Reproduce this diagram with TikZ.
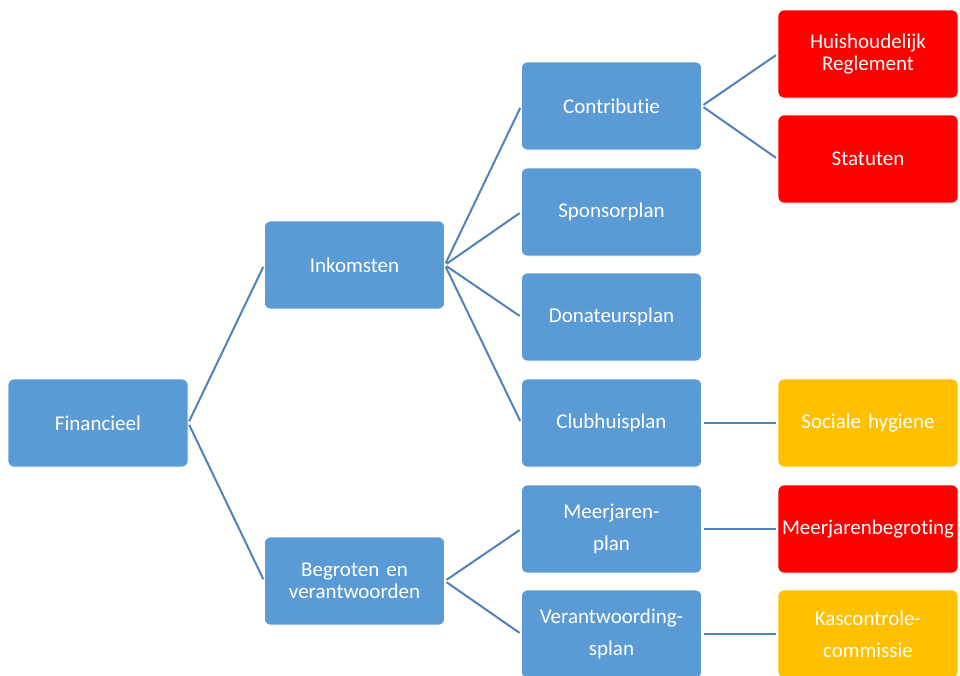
\documentclass[tikz,border=0pt]{standalone}
\usepackage{fontspec}
\setmainfont[Ligatures=NoCommon]{Carlito}
\definecolor{boxblue}{HTML}{5B9BD5}
\definecolor{boxred}{HTML}{FF0000}
\definecolor{boxorange}{HTML}{FFC000}
\definecolor{linkblue}{HTML}{4F81BD}
\begin{document}
\begin{tikzpicture}[x=0.75pt,y=-0.75pt,
  box/.style={rectangle, rounded corners=4.5pt, draw=white, line width=0.5pt,
    minimum width=135pt, minimum height=66pt, text width=130pt, align=center,
    text=white, font=\fontsize{15.75}{16.3}\selectfont, inner sep=0pt},
  blue box/.style={box, fill=boxblue},
  red box/.style={box, fill=boxred},
  orange box/.style={box, fill=boxorange},
  wide/.style={font=\fontsize{15.75}{24}\selectfont},
  link/.style={draw=linkblue, line width=1.5pt, shorten >=1.5pt, shorten <=1.5pt}]
\useasboundingbox (0,0) rectangle (960,675);
% column 1
\node[blue box] (fin) at (98,423) {Financieel};
% column 2
\node[blue box] (ink) at (354.5,265) {Inkomsten};
\node[blue box] (beg) at (354.5,581) {Begroten en\\verantwoorden};
% column 3
\node[blue box] (con) at (611.5,106) {Contributie};
\node[blue box] (spo) at (611.5,212) {Sponsorplan};
\node[blue box] (don) at (611.5,317) {Donateursplan};
\node[blue box] (clu) at (611.5,423) {Clubhuisplan};
\node[blue box, wide] (mee) at (611.5,529) {Meerjaren-\\plan};
\node[blue box, wide] (ver) at (611.5,634) {Verantwoording-\\splan};
% column 4
\node[red box] (hui) at (868,54) {Huishoudelijk\\Reglement};
\node[red box] (sta) at (868,159) {Statuten};
\node[orange box] (soc) at (868,423) {Sociale hygiene};
\node[red box] (mjb) at (868,529) {Meerjarenbegroting};
\node[orange box, wide] (kas) at (868,634) {Kascontrole-\\commissie};
% connectors
\draw[link] (fin.east) -- (ink.west);
\draw[link] (fin.east) -- (beg.west);
\draw[link] (ink.east) -- (con.west);
\draw[link] (ink.east) -- (spo.west);
\draw[link] (ink.east) -- (don.west);
\draw[link] (ink.east) -- (clu.west);
\draw[link] (beg.east) -- (mee.west);
\draw[link] (beg.east) -- (ver.west);
\draw[link] (con.east) -- (hui.west);
\draw[link] (con.east) -- (sta.west);
\draw[link] (clu.east) -- (soc.west);
\draw[link] (mee.east) -- (mjb.west);
\draw[link] (ver.east) -- (kas.west);
\end{tikzpicture}
\end{document}
